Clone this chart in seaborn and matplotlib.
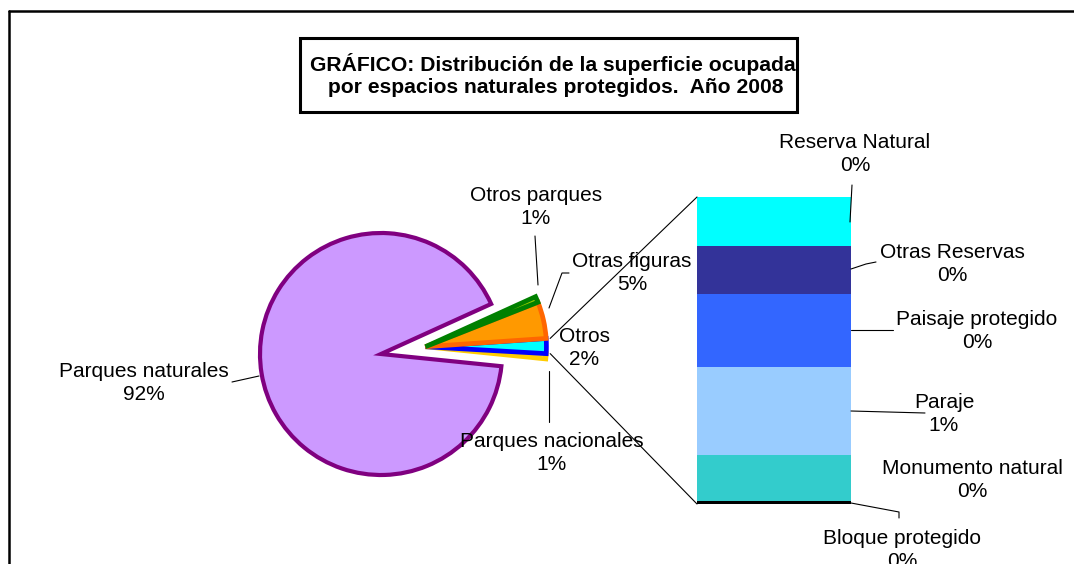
import numpy as np
import pandas as pd
import matplotlib.pyplot as plt
from matplotlib.patches import Rectangle
import seaborn as sns

sns.set_theme(style="white")
plt.rcParams["font.family"] = ["Liberation Sans", "DejaVu Sans"]
plt.rcParams["text.color"] = "black"

# ========== datos ==========
pie_names = ["Parques nacionales", "Otros", "Otras figuras", "Otros parques", "Parques naturales"]
pie_values = [0.7, 2.0, 4.9, 0.8, 91.6]
pie_fill = ["#CCFF99", "#00FFFF", "#FF9900", "#99CC00", "#CC99FF"]
pie_edge = ["#FFCC00", "#0000FF", "#FF6600", "#008000", "#800080"]

# desglose de "Otros", de abajo hacia arriba
bar_names = ["Bloque protegido", "Monumento natural", "Paraje", "Paisaje protegido",
             "Otras Reservas", "Reserva Natural"]
bar_values = [0.02, 0.30, 0.57, 0.48, 0.31, 0.32]
bar_colors = ["#000000", "#33CCCC", "#99CCFF", "#3366FF", "#333399", "#00FFFF"]

title = "GRÁFICO: Distribución de la superficie ocupada\n por espacios naturales protegidos.  Año 2008"

W, H = 1074, 564
FS = 15

fig = plt.figure(figsize=(W / 100, H / 100), dpi=100)
ax = fig.add_axes([0, 0, 1, 1])

total = sum(pie_values)

# ========== tarta ==========
cx, cy, R = 381, H - 354, 121
wedges, _ = ax.pie(pie_values, colors=pie_fill, startangle=-5.8, counterclock=True,
                   center=(cx, cy), radius=R,
                   wedgeprops=dict(linewidth=3.4))
for w, ec in zip(wedges, pie_edge):
    w.set_edgecolor(ec)
wedges[-1].set_linewidth(3.0)

# grupo pequeño desplazado
small = wedges[:4]
mid = np.deg2rad((small[0].theta1 + small[-1].theta2) / 2)
shift = 45
scx, scy = cx + shift * np.cos(mid), cy + shift * np.sin(mid)
for w in small:
    w.set_center((scx, scy))

# ========== barra ==========
bar_x, bar_w = 774, 154
bar_bottom, bar_h = H - 504, 307
scale = bar_h / sum(bar_values)
df_bar = pd.DataFrame({"name": bar_names, "value": bar_values, "color": bar_colors})
df_bar["bottom"] = bar_bottom + df_bar["value"].cumsum().shift(fill_value=0) * scale
ax.bar(bar_x, df_bar["value"] * scale, bottom=df_bar["bottom"], width=bar_w,
       color=df_bar["color"], linewidth=0)

# líneas de conexión
w_ot = wedges[pie_names.index("Otros")]
t1, t2 = np.deg2rad(w_ot.theta1), np.deg2rad(w_ot.theta2)
left = bar_x - bar_w / 2
ax.plot([scx + R * np.cos(t2) + 4, left], [scy + R * np.sin(t2), bar_bottom + bar_h],
        color="black", lw=0.8)
ax.plot([scx + R * np.cos(t1) + 4, left], [scy + R * np.sin(t1), bar_bottom],
        color="black", lw=0.8)

# ========== etiquetas ==========
label_pos = {
    "Parques naturales": (144, 383),
    "Otros parques": (536, 207),
    "Otras figuras": (632, 273),
    "Otros": (584, 348),
    "Parques nacionales": (552, 453),
    "Reserva Natural": (855, 154),
    "Otras Reservas": (952, 264),
    "Paisaje protegido": (977, 331),
    "Paraje": (944, 414),
    "Monumento natural": (972, 480),
    "Bloque protegido": (902, 550),
}
leaders = {
    "Parques naturales": [(232, 382), (259, 376)],
    "Otros parques": [(535, 236), (538, 285)],
    "Otras figuras": [(569, 273), (562, 273), (549, 308)],
    "Parques nacionales": [(549, 371), (549, 422)],
    "Reserva Natural": [(852, 185), (850, 222)],
    "Otras Reservas": [(876, 262), (866, 264), (851, 269)],
    "Paisaje protegido": [(893, 330), (851, 330)],
    "Paraje": [(925, 413), (851, 411)],
    "Bloque protegido": [(851, 503), (899, 512), (899, 518)],
}

values = dict(zip(pie_names, pie_values))
values.update(dict(zip(bar_names, bar_values)))
for name, (x, y) in label_pos.items():
    pct = values[name] / total * 100
    ax.text(x, H - y, f"{name}\n{pct:.0f}%", ha="center", va="center",
            fontsize=FS, linespacing=1.3, color="black")
for name, pts in leaders.items():
    xs, ys = zip(*pts)
    ax.plot(xs, [H - v for v in ys], color="black", lw=0.8)

# ========== título ==========
ax.add_patch(Rectangle((300, H - 112), 497, 74, facecolor="white",
                       edgecolor="black", linewidth=2.2, zorder=5))
ax.text(553, H - 75, title, ha="center", va="center", fontsize=FS + 0.2,
        fontweight="bold", linespacing=1.25, color="black", zorder=6)

# marco
ax.plot([9, 9], [0, H - 11], color="black", lw=1.8)
ax.plot([9, W], [H - 11, H - 11], color="black", lw=1.8)

ax.set_xlim(0, W)
ax.set_ylim(0, H)
ax.set_aspect("auto")
ax.axis("off")

fig.savefig("out.png", dpi=100)
